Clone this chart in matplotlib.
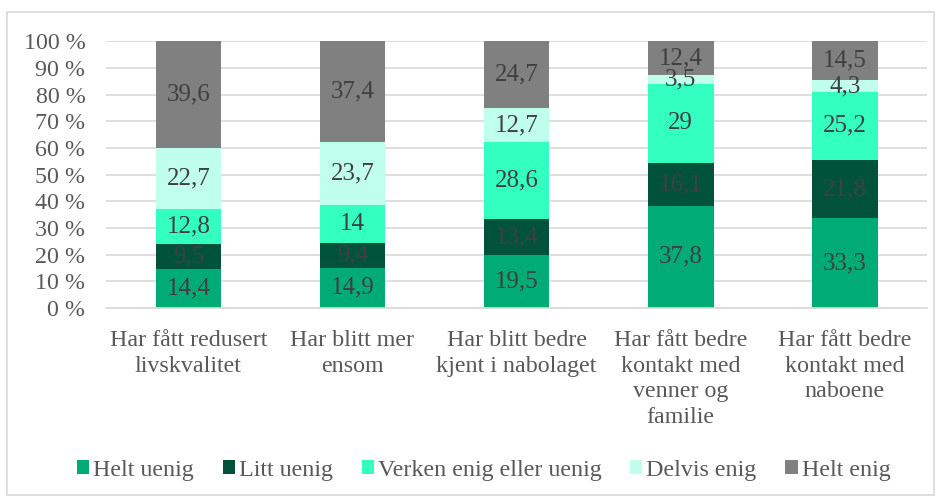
import matplotlib.pyplot as plt
import numpy as np

plt.rcParams['font.family'] = ['Liberation Serif', 'DejaVu Serif']

categories = ["Har fått redusert\nlivskvalitet", "Har blitt mer\nensom",
              "Har blitt bedre\nkjent i nabolaget",
              "Har fått bedre\nkontakt med\nvenner og\nfamilie",
              "Har fått bedre\nkontakt med\nnaboene"]
series = ["Helt uenig", "Litt uenig", "Verken enig eller uenig", "Delvis enig", "Helt enig"]
helt_uenig = [14.4, 14.9, 19.5, 37.8, 33.3]
litt_uenig = [9.5, 9.4, 13.4, 16.1, 21.8]
verken = [12.8, 14, 28.6, 29, 25.2]
delvis_enig = [22.7, 23.7, 12.7, 3.5, 4.3]
helt_enig = [39.6, 37.4, 24.7, 12.4, 14.5]
colors = ["#00AB76", "#00533A", "#33FFC0", "#BFFFEB", "#808080"]

values = np.array([helt_uenig, litt_uenig, verken, delvis_enig, helt_enig])
totals = values.sum(axis=0)
shares = values / totals * 100

fs = 17.3
fig = plt.figure(figsize=(9.41, 4.99), dpi=100)
ax = fig.add_axes([0.113, 0.383, 0.872, 0.534])
fig.patches.append(plt.Rectangle((7 / 941, 4 / 499), 927 / 941, 483 / 499,
                                 transform=fig.transFigure,
                                 fill=False, edgecolor="#D9D9D9", linewidth=1.2))

x = np.arange(len(categories))
bottom = np.zeros(len(categories))
for i, name in enumerate(series):
    ax.bar(x, shares[i], 0.4, bottom=bottom, color=colors[i], label=name, zorder=2)
    for j in range(len(categories)):
        lab = f"{values[i][j]:g}".replace(".", ",")
        ax.text(x[j], bottom[j] + shares[i][j] / 2, lab, ha="center", va="center",
                fontsize=18, color="#404040", zorder=3)
    bottom += shares[i]

ax.set_xlim(-0.5, len(categories) - 0.5)
ax.set_ylim(0, 100)
ax.set_yticks(np.arange(0, 101, 10))
ax.set_yticklabels([f"{v} %" for v in range(0, 101, 10)])
ax.set_xticks(x)
ax.set_xticklabels(categories, linespacing=1.28)
ax.tick_params(axis="both", length=0, labelsize=fs, labelcolor="#595959")
ax.tick_params(axis="x", pad=16)
ax.tick_params(axis="y", pad=15)
ax.grid(axis="y", color="#D9D9D9", linewidth=1.2, zorder=0)
for s in ["top", "right", "left"]:
    ax.spines[s].set_visible(False)
ax.spines["bottom"].set_color("#D9D9D9")
ax.spines["bottom"].set_linewidth(1.2)

fig.legend(loc="center", bbox_to_anchor=(0.514, 0.058), ncol=5, frameon=False,
           fontsize=fs, labelcolor="#595959", handlelength=0.5, handleheight=0.5,
           handletextpad=0.17, columnspacing=1.2)

fig.savefig("out.png", dpi=100)
